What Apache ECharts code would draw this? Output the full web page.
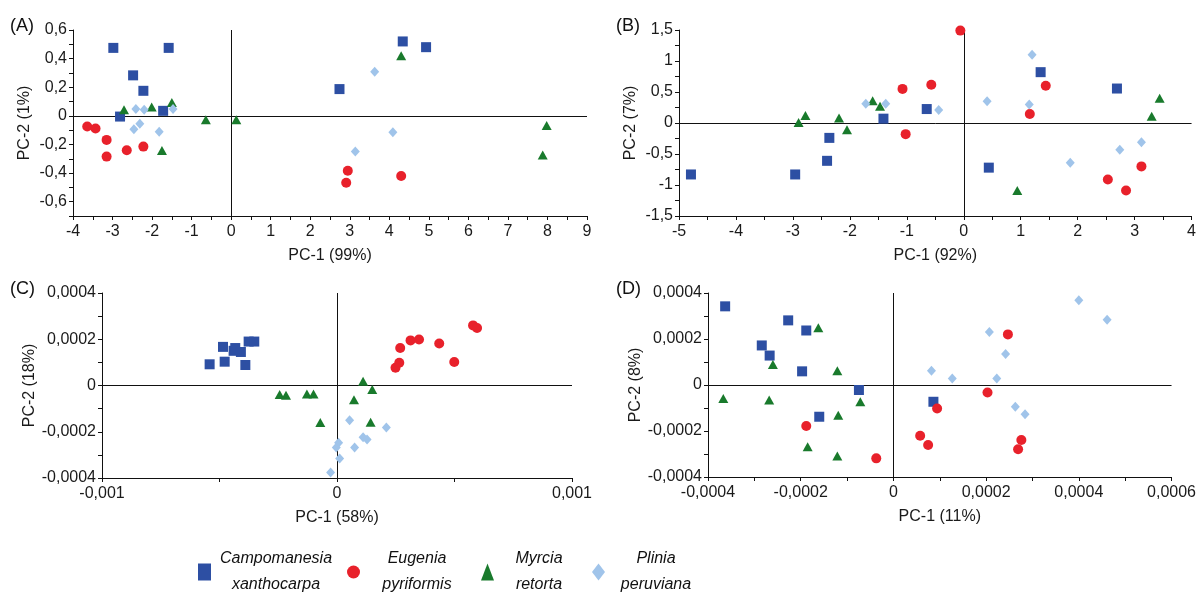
<!DOCTYPE html>
<html><head><meta charset="utf-8">
<script src="https://cdn.jsdelivr.net/npm/echarts@6/dist/echarts.min.js"></script>
<style>html,body{margin:0;padding:0;background:#fff}#c{width:1199px;height:592px}</style>
</head><body><div id="c"></div>
<script>
// ---- Data ----
const seriesNames = ['Campomanesia xanthocarpa', 'Eugenia pyriformis', 'Myrcia retorta', 'Plinia peruviana'];
const legendLine1 = ['Campomanesia', 'Eugenia', 'Myrcia', 'Plinia'];
const legendLine2 = ['xanthocarpa', 'pyriformis', 'retorta', 'peruviana'];
const panelLabels = ['(A)', '(B)', '(C)', '(D)'];
const xNames = ['PC-1 (99%)', 'PC-1 (92%)', 'PC-1 (58%)', 'PC-1 (11%)'];
const yNames = ['PC-2 (1%)', 'PC-2 (7%)', 'PC-2 (18%)', 'PC-2 (8%)'];

// Panel A
const A_camp = [[-2.98,0.475],[-1.58,0.475],[-2.48,0.283],[-2.22,0.175],[-2.81,-0.005],[-1.72,0.035],[4.34,0.52],[4.93,0.48],[2.74,0.187]];
const A_eug  = [[-3.64,-0.075],[-3.43,-0.089],[-3.15,-0.168],[-3.15,-0.285],[-2.64,-0.24],[-2.22,-0.215],[2.95,-0.384],[2.91,-0.468],[4.30,-0.421]];
const A_myr  = [[-2.71,0.042],[-2.01,0.061],[-1.50,0.093],[-1.75,-0.243],[-0.64,-0.028],[0.13,-0.028],[4.30,0.42],[7.98,-0.068],[7.88,-0.274]];
const A_pli  = [[-2.41,0.047],[-2.20,0.042],[-1.47,0.047],[-2.46,-0.094],[-2.31,-0.056],[-1.82,-0.112],[3.63,0.309],[4.09,-0.115],[3.14,-0.25]];
// Panel B
const B_camp = [[-4.79,-0.83],[-2.96,-0.83],[-2.36,-0.24],[-2.40,-0.61],[-1.41,0.07],[-0.65,0.225],[0.44,-0.72],[1.35,0.82],[2.69,0.556]];
const B_eug  = [[-1.075,0.55],[-0.06,1.49],[-0.57,0.616],[-1.02,-0.18],[1.44,0.6],[1.16,0.145],[2.53,-0.91],[2.85,-1.09],[3.12,-0.70]];
const B_myr  = [[-2.90,0.01],[-2.78,0.12],[-2.19,0.08],[-2.05,-0.11],[-1.60,0.36],[-1.47,0.27],[0.94,-1.09],[3.30,0.11],[3.44,0.40]];
const B_pli  = [[-1.72,0.31],[-1.37,0.31],[-0.44,0.21],[0.41,0.35],[1.20,1.10],[1.15,0.30],[1.87,-0.64],[2.74,-0.43],[3.12,-0.31]];
// Panel C
const C_camp = [[-0.000542,0.0000917],[-0.000485,0.000167],[-0.000478,0.000103],[-0.00044,0.00015],[-0.000433,0.000162],[-0.000409,0.000145],[-0.00039,0.0000887],[-0.000376,0.00019],[-0.000352,0.00019]];
const C_eug  = [[0.000249,0.0000769],[0.000265,0.0000987],[0.000269,0.000162],[0.000313,0.000195],[0.000349,0.000199],[0.000435,0.000182],[0.000499,0.000102],[0.000579,0.00026],[0.000596,0.000249]];
const C_myr  = [[-0.000244,-0.0000393],[-0.000217,-0.0000424],[-0.000128,-0.0000367],[-0.0001,-0.0000367],[-0.0000711,-0.00016],[0.000111,0.0000188],[0.00015,-0.0000175],[0.0000723,-0.0000611],[0.000143,-0.000159]];
const C_pli  = [[0.0000536,-0.00015],[0.00021,-0.000182],[0.0000068,-0.000248],[-0.000003,-0.000268],[0.0000749,-0.000268],[0.000111,-0.000224],[0.000128,-0.000233],[0.0000113,-0.000316],[-0.0000272,-0.000376]];
// Panel D
const D_camp = [[-0.000363,0.000342],[-0.000227,0.000281],[-0.000188,0.000237],[-0.000284,0.000172],[-0.000267,0.000128],[-0.000197,0.0000594],[-0.0000744,-0.0000218],[-0.00016,-0.000138],[0.0000863,-0.0000729]];
const D_eug  = [[-0.000188,-0.000178],[-0.000037,-0.000319],[0.0000943,-0.000102],[0.0000577,-0.000221],[0.0000749,-0.000261],[0.000203,-0.0000323],[0.000247,0.00022],[0.000276,-0.000239],[0.000269,-0.000279]];
const D_myr  = [[-0.000162,0.000249],[-0.00026,0.0000887],[-0.000121,0.0000624],[-0.000367,-0.0000585],[-0.000268,-0.0000655],[-0.0000714,-0.0000729],[-0.000119,-0.000131],[-0.000185,-0.000268],[-0.000121,-0.000309]];
const D_pli  = [[0.0000821,0.0000624],[0.000127,0.0000288],[0.000207,0.00023],[0.000242,0.000135],[0.000223,0.0000288],[0.000263,-0.0000948],[0.000284,-0.000127],[0.0004,0.000368],[0.000461,0.000284]];

const panels = [[A_camp,A_eug,A_myr,A_pli],[B_camp,B_eug,B_myr,B_pli],[C_camp,C_eug,C_myr,C_pli],[D_camp,D_eug,D_myr,D_pli]];

// axis ranges: [min, max, tickInterval, labelStep]
const xRanges = [[-4,9,0.5,1],[-5,4,0.5,1],[-0.001,0.001,0.0005,0.001],[-0.0004,0.0006,0.0001,0.0002]];
const yRanges = [[-0.7,0.6,0.1,0.2],[-1.5,1.5,0.25,0.5],[-0.0004,0.0004,0.0001,0.0002],[-0.0004,0.0004,0.0001,0.0002]];

// ---- Styling ----
const colors = ['#2D4FA3', '#E8212B', '#197A2C', '#A0C4EA'];
const symbols = ['rect', 'circle', 'triangle', 'diamond'];
const symbolSizes = [10, 10, [10, 9], [9, 10]];
const grids = [
  {left:73, top:30, width:514, height:186},
  {left:679, top:30, width:513, height:186},
  {left:102, top:293, width:470, height:185},
  {left:708, top:293, width:465, height:184}
];
const FONT = '"Liberation Sans", Arial, sans-serif';

function fmt(step){
  return function(v){
    const r = v/step;
    if (Math.abs(r - Math.round(r)) > 1e-6) return '';
    if (Math.abs(v) < step*1e-6) return '0';
    return String(+v.toPrecision(6)).replace('.', ',');
  };
}
function axis(range, gi, name, isX){
  return {
    type:'value', gridIndex:gi, min:range[0], max:range[1], interval:range[2],
    name:name, nameLocation:'middle', nameGap:isX?32:40,
    nameTextStyle:{fontFamily:FONT, fontSize:16, color:'#1a1a1a'},
    axisLine:{show:true, onZero:false, lineStyle:{color:'#111', width:1}},
    axisTick:{show:true, inside:false, length:4, lineStyle:{color:'#111'}},
    axisLabel:{show:true, formatter:fmt(range[3]), fontFamily:FONT, fontSize:16, color:'#1a1a1a', margin:isX?8:6, hideOverlap:false, showMinLabel:true, showMaxLabel:true},
    splitLine:{show:false}, minorTick:{show:false}, minorSplitLine:{show:false}
  };
}

const titleLefts = [10, 616, 10, 616];
const xAxis = [], yAxis = [], series = [], title = [];
for (let p = 0; p < 4; p++){
  xAxis.push(axis(xRanges[p], p, xNames[p], true));
  yAxis.push(axis(yRanges[p], p, yNames[p], false));
  title.push({text:panelLabels[p], left:titleLefts[p], top:grids[p].top - 13, padding:0,
    textStyle:{fontFamily:FONT, fontSize:18, fontWeight:'normal', color:'#111'}});
  for (let s = 0; s < 4; s++){
    const ser = {
      type:'scatter', name:seriesNames[s], xAxisIndex:p, yAxisIndex:p,
      data:panels[p][s], symbol:symbols[s], symbolSize:symbolSizes[s],
      itemStyle:{color:colors[s], opacity:1}, z:3
    };
    if (s === 0){
      ser.markLine = {
        silent:true, symbol:['none','none'], z:1, animation:false,
        label:{show:false},
        lineStyle:{color:'#111', type:'solid', width:1},
        emphasis:{disabled:true},
        data:[{xAxis:0},{yAxis:0}]
      };
    }
    series.push(ser);
  }
}

const legendLefts = [198, 347, 481, 592];
const legendWidths = [120, 104, 80, 92];
const legend = seriesNames.map((n, i) => ({
  data:[n], left:legendLefts[i], top:551, padding:0, itemWidth:13, itemHeight:17,
  selectedMode:false,
  formatter:function(){ return '{a|' + legendLine1[i] + '}\n{a|' + legendLine2[i] + '}'; },
  textStyle:{
    rich:{a:{width:legendWidths[i], align:'center', fontFamily:FONT, fontStyle:'italic', fontSize:16, lineHeight:26, color:'#111'}}
  }
}));

const chart = echarts.init(document.getElementById('c'), null, {renderer:'canvas'});
chart.setOption({
  animation:false, backgroundColor:'#fff',
  title:title, grid:grids, xAxis:xAxis, yAxis:yAxis, legend:legend, series:series
});
</script></body></html>
